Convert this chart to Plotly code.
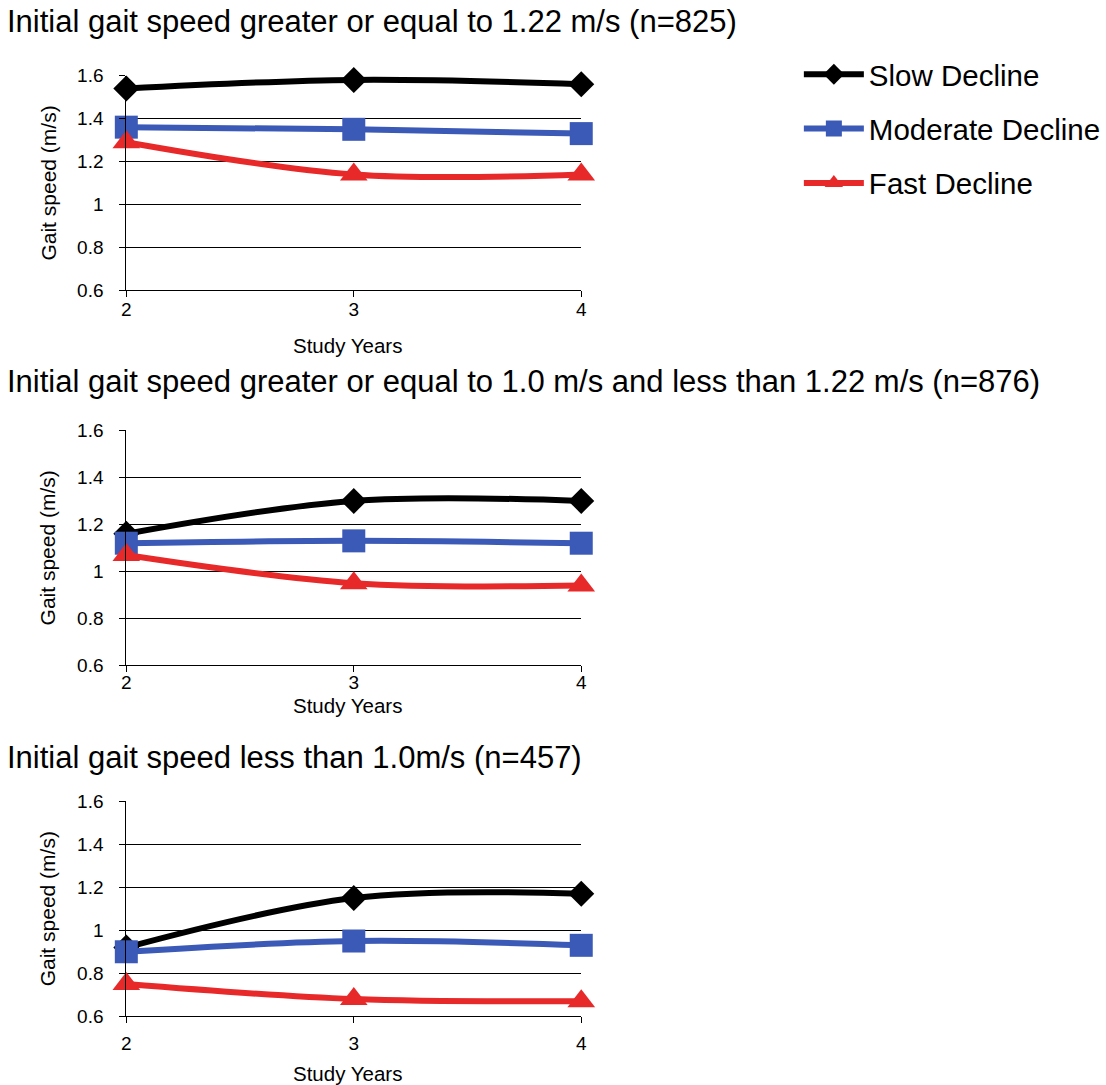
import plotly.graph_objects as go

years = [2, 3, 4]
series_names = ["Slow Decline", "Moderate Decline", "Fast Decline"]
panel_titles = [
    "Initial gait speed greater or equal to 1.22 m/s (n=825)",
    "Initial gait speed greater or equal to 1.0 m/s and less than 1.22 m/s (n=876)",
    "Initial gait speed less than 1.0m/s (n=457)",
]
# panel 1
p1_slow = [1.54, 1.58, 1.56]
p1_moderate = [1.36, 1.35, 1.33]
p1_fast = [1.29, 1.14, 1.14]
# panel 2
p2_slow = [1.16, 1.30, 1.30]
p2_moderate = [1.12, 1.13, 1.12]
p2_fast = [1.07, 0.95, 0.94]
# panel 3
p3_slow = [0.92, 1.15, 1.17]
p3_moderate = [0.90, 0.95, 0.93]
p3_fast = [0.75, 0.68, 0.67]

y_tickvals = [0.6, 0.8, 1.0, 1.2, 1.4, 1.6]
y_ticktext = ["0.6", "0.8", "1", "1.2", "1.4", "1.6"]

W, H = 1106, 1085


def fx(px):
    return ((px - 2.8) / 0.9935) / W


def fy(py):
    return 1 - ((py - 9.4) / 0.981) / H


colors = ["#000000", "#3b59b6", "#e8292a"]
symbols = ["diamond", "square", "triangle-up"]
msizes = [20, 23, 24]

panels = [
    [p1_slow, p1_moderate, p1_fast],
    [p2_slow, p2_moderate, p2_fast],
    [p3_slow, p3_moderate, p3_fast],
]
# target pixel layout (top, bottom) of each plot area
px_y = [(75, 290), (430, 665), (801, 1016)]
px_x = (126, 588)
title_y = [21, 381, 757]
xtitle_y = [345, 705, 1073]
tick_standoff = [-4, -6, 4]

FONT = "Liberation Sans, Arial, Helvetica, sans-serif"

fig = go.Figure()
annotations = []
for i, data in enumerate(panels):
    ax = "" if i == 0 else str(i + 1)
    for j, vals in enumerate(data):
        fig.add_trace(go.Scatter(
            x=years, y=vals, mode="lines+markers",
            name=series_names[j],
            legendgroup=series_names[j],
            showlegend=(i == 0),
            line=dict(color=colors[j], width=6, shape="spline", smoothing=1),
            marker=dict(symbol=symbols[j], size=msizes[j], color=colors[j]),
            cliponaxis=False,
            xaxis="x" + ax, yaxis="y" + ax,
        ))
    top, bot = px_y[i]
    fig.layout["xaxis" + ax] = dict(
        domain=[fx(px_x[0]), fx(px_x[1])], range=[2, 4],
        tickvals=years, ticks="outside", ticklen=6, tickcolor="black",
        showline=True, linecolor="black", linewidth=1,
        showgrid=False, zeroline=False,
        tickfont=dict(size=19, color="black", family=FONT),
        ticklabelstandoff=tick_standoff[i],
        anchor="y" + ax, fixedrange=True,
    )
    fig.layout["yaxis" + ax] = dict(
        domain=[fy(bot), fy(top)], range=[0.6, 1.6],
        tickvals=y_tickvals, ticktext=y_ticktext,
        ticks="outside", ticklen=6, tickcolor="black",
        showline=True, linecolor="black", linewidth=1,
        showgrid=True, gridcolor="black", gridwidth=1, zeroline=False,
        tickfont=dict(size=19, color="black", family=FONT),
        ticklabelstandoff=12,
        anchor="x" + ax, fixedrange=True,
    )
    annotations.append(dict(
        text=panel_titles[i], xref="paper", yref="paper",
        x=fx(3), y=fy(title_y[i]), xanchor="left", yanchor="middle",
        showarrow=False, font=dict(size=31, color="black", family=FONT),
    ))
    annotations.append(dict(
        text="Study Years", xref="paper", yref="paper",
        x=fx((px_x[0] + px_x[1]) / 2 - 6), y=fy(xtitle_y[i]),
        xanchor="center", yanchor="middle",
        showarrow=False, font=dict(size=20.5, color="black", family=FONT),
    ))
    annotations.append(dict(
        text="Gait speed (m/s)", xref="paper", yref="paper",
        x=fx(46), y=fy((top + bot) / 2), textangle=-90,
        xanchor="center", yanchor="middle",
        showarrow=False, font=dict(size=21, color="black", family=FONT),
    ))

fig.update_layout(
    width=W, height=H, autosize=False,
    margin=dict(l=0, r=0, t=0, b=0),
    paper_bgcolor="white", plot_bgcolor="white",
    annotations=annotations,
    legend=dict(
        x=fx(809), y=fy(48), xanchor="left", yanchor="top",
        font=dict(size=29.5, color="black", family=FONT),
        tracegroupgap=13, itemwidth=60,
        bgcolor="rgba(0,0,0,0)",
    ),
    font=dict(family=FONT, color="black"),
)

fig.write_html(
    "out.html",
    config={"displayModeBar": False},
    post_script="document.body.style.margin='0';document.body.style.overflow='hidden';",
)
